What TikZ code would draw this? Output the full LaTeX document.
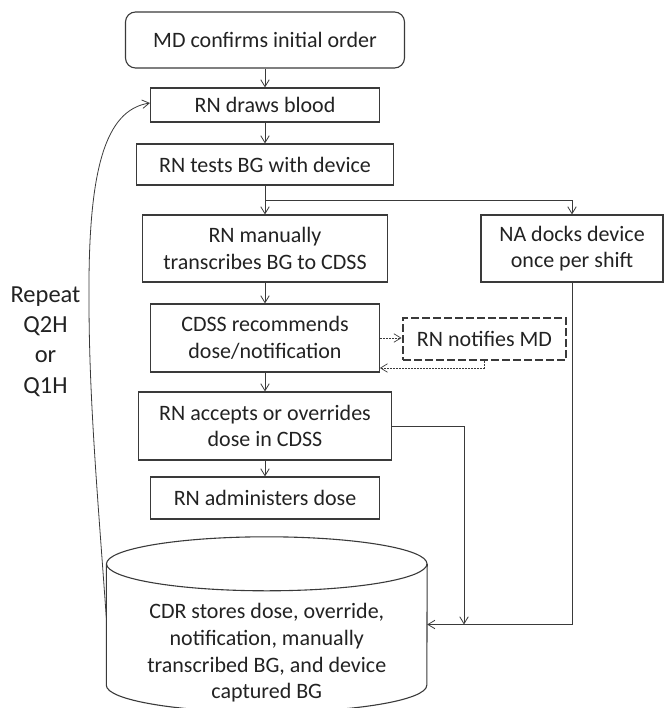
\documentclass[tikz,border=0pt]{standalone}
\usepackage{fontspec}
\setmainfont{Carlito}
\usetikzlibrary{arrows.meta,calc}
\definecolor{ink}{HTML}{222222}
\definecolor{edge}{HTML}{3A3A3A}
\begin{document}
\begin{tikzpicture}[x=1pt,y=-1pt,
  box/.style={draw=edge,line width=1.1pt,text=ink,align=center,inner sep=0pt,
    font=\fontsize{22}{26.7}\selectfont},
  conn/.style={draw=edge,line width=0.8pt,-{Straight Barb[length=7pt,width=8.5pt]}},
  dotconn/.style={conn,dash pattern=on 2pt off 1pt,line width=0.7pt},
  notebox/.style={box,dash pattern=on 8pt off 3pt,line width=2.9pt}]
\useasboundingbox (0,0) rectangle (664,708);

\node[box,rounded corners=10pt,minimum width=279pt,minimum height=56pt] (md) at (265,40) {MD confirms initial order};
\node[box,minimum width=229pt,minimum height=34pt] (draws) at (265,105) {RN draws blood};
\node[box,minimum width=257pt,minimum height=41pt] (tests) at (265,164.5) {RN tests BG with device};
\node[box,minimum width=245.5pt,minimum height=67pt] (manual) at (265,248.5) {RN manually\\transcribes BG to CDSS};
\node[box,minimum width=182pt,minimum height=67pt] (na) at (572,248.5) {NA docks device\\once per shift};
\node[box,minimum width=228.6pt,minimum height=68pt] (cdss) at (265,338) {CDSS recommends\\dose/notification};
\node[notebox,minimum width=163pt,minimum height=42pt] (notify) at (484.5,339) {RN notifies MD};
\node[box,minimum width=253.5pt,minimum height=68pt] (accepts) at (265,426) {RN accepts or overrides\\dose in CDSS};
\node[box,minimum width=229pt,minimum height=42pt] (admin) at (265,498) {RN administers dose};

% database cylinder
\node[inner sep=0pt,minimum width=320.5pt,minimum height=121pt] (cdr) at (266.75,624.5) {};
\draw[edge,line width=1.1pt] (cdr.north west) -- (cdr.south west)
  arc[start angle=180,end angle=360,x radius=160.25pt,y radius=27pt] -- (cdr.north east);
\draw[edge,line width=1.1pt] (cdr.north) ellipse[x radius=160.25pt,y radius=27pt];
\node[text=ink,align=center,inner sep=0pt,font=\fontsize{22}{26.7}\selectfont] (cdrtext) at (266.75,653)
  {CDR stores dose, override,\\notification, manually\\transcribed BG, and device\\captured BG};

\node[text=ink,align=center,inner sep=0pt,font=\fontsize{24.5}{30.3}\selectfont] (repeat) at (45.5,341.5)
  {Repeat\\Q2H\\or\\Q1H};

% connectors
\draw[conn] (md) -- (draws);
\draw[conn] (draws) -- (tests);
\draw[conn] (tests) -- (manual);
\coordinate (br) at ($(tests.south)!0.5!(manual.north)$);
\draw[conn] (br) -| (na.north);
\draw[conn] (manual) -- (cdss);
\draw[dotconn] (cdss.east) -- (cdss.east -| notify.west);
\draw[dotconn] (notify.south) |- ([yshift=-30pt]cdss.east);
\draw[conn] (cdss) -- (accepts);
\draw[conn] (accepts) -- (admin);
\coordinate (j) at (464,624.5);
\draw[conn] (accepts.east) -| (j);
\draw[conn] (na.south) |- (cdr.east);
\draw[conn] ([yshift=7pt]cdr.west) .. controls (98,500) and (89,400) .. (89,300)
  .. controls (88,170) and (105,110) .. ([yshift=2pt]draws.west);
\end{tikzpicture}
\end{document}
